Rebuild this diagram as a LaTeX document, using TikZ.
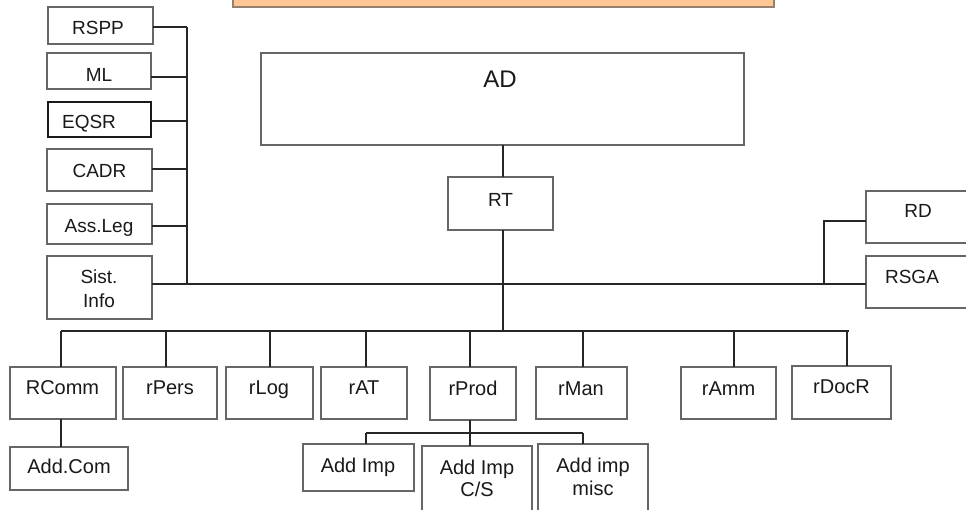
\documentclass[tikz,border=0pt]{standalone}
\usepackage{fontspec}
\setmainfont{Liberation Sans}
\definecolor{orfill}{RGB}{253,198,146}
\definecolor{orbrd}{RGB}{150,128,110}
\newcommand\mybox[6][]{\node[box,#1,minimum width={#5-#3},minimum height={#6-#4}] (#2) at ({(#3+#5)/2},{(#4+#6)/2}) {};}
\begin{document}
\begin{tikzpicture}[x=1pt,y=-1pt,
  box/.style={draw=black!60,line width=1.2pt,fill=white,inner sep=0pt,outer sep=0pt},
  thickbox/.style={draw=black!90,line width=1.8pt},
  lbl/.style={inner sep=0pt,anchor=base,align=center,text=black!90,font=\fontsize{20}{23}\selectfont},
  lblsm/.style={lbl,font=\fontsize{19}{24}\selectfont},
  conn/.style={draw=black!85,line width=1.3pt}]
\useasboundingbox (0,0) rectangle (966,509);
\fill[white] (0,0) rectangle (966,509);
\clip (0,0) rectangle (966,509);
% top orange banner
\node[draw=orbrd,fill=orfill,line width=1.5pt,inner sep=0pt,outer sep=0pt,minimum width=541,minimum height=30] (banner) at (503.5,-8) {};
% left column
\mybox{RSPP}{48}{7}{153}{44}
\mybox{ML}{47}{53}{151}{89}
\mybox[thickbox]{EQSR}{48}{102}{151}{137}
\mybox{CADR}{47}{149}{152}{191}
\mybox{AssLeg}{47}{204}{152}{244}
\mybox{Sist}{47}{256}{152}{319}
% centre
\mybox{AD}{261}{53}{744}{145}
\mybox{RT}{448}{177}{553}{230}
% right
\mybox{RD}{866}{191}{972}{243}
\mybox{RSGA}{866}{256}{972}{308}
% bottom row
\mybox{RComm}{10}{367}{116}{419}
\mybox{rPers}{123}{367}{217}{419}
\mybox{rLog}{226}{367}{313}{419}
\mybox{rAT}{321}{367}{407}{419}
\mybox{rProd}{430}{367}{516}{420}
\mybox{rMan}{536}{367}{627}{419}
\mybox{rAmm}{681}{367}{776}{419}
\mybox{rDocR}{792}{366}{891}{419}
% lowest row
\mybox{AddCom}{10}{447}{128}{490}
\mybox{AddImp}{303}{444}{414}{491}
\mybox{AddImpCS}{422}{446}{532}{520}
\mybox{AddImpMisc}{538}{444}{648}{520}
% labels
\node[lblsm] (RSPP-t) at (98,34) {RSPP};
\node[lblsm] (ML-t) at (99,81) {ML};
\node[lblsm] (EQSR-t) at (89,128) {EQSR};
\node[lblsm] (CADR-t) at (99.5,177) {CADR};
\node[lblsm] (AssLeg-t) at (99,232) {Ass.Leg};
\node[lblsm] (Sist-t) at (99,307) {Sist.\\Info};
\node[lbl,font=\fontsize{24}{28}\selectfont] (AD-t) at (500,87) {AD};
\node[lblsm] (RT-t) at (500.5,206) {RT};
\node[lblsm] (RD-t) at (918,217) {RD};
\node[lblsm] (RSGA-t) at (912,283) {RSGA};
\node[lbl] (RComm-t) at (62.5,394) {RComm};
\node[lbl] (rPers-t) at (170,394) {rPers};
\node[lbl] (rLog-t) at (269,394) {rLog};
\node[lbl] (rAT-t) at (364,394) {rAT};
\node[lbl] (rProd-t) at (473,395) {rProd};
\node[lbl] (rMan-t) at (581,395) {rMan};
\node[lbl] (rAmm-t) at (728.5,395) {rAmm};
\node[lbl] (rDocR-t) at (841.5,393) {rDocR};
\node[lbl] (AddCom-t) at (69,473) {Add.Com};
\node[lbl] (AddImp-t) at (358,472) {Add Imp};
\node[lbl,font=\fontsize{20}{22}\selectfont] (AddImpCS-t) at (477,496) {Add Imp\\C/S};
\node[lbl] (AddImpMisc-t) at (593,495) {Add imp\\misc};
% left bus
\coordinate (lb) at (187,27);
\coordinate (lj) at (187,284);
\draw[conn] (lb) -- (lj);
\foreach \n/\y in {RSPP/27,ML/77,EQSR/121,CADR/169,AssLeg/226}
  \draw[conn] (\n.east |- 0,\y) -- (lb |- 0,\y);
% main horizontal line
\draw[conn] (Sist.east |- lj) -- (RSGA.west |- lj);
% RD branch
\coordinate (rdj) at (824,284);
\draw[conn] (RD.west |- 0,221) -- (rdj |- 0,221) -- (rdj);
% AD - RT - trunk
\coordinate (tr) at (503,331);
\draw[conn] (tr |- AD.south) -- (tr |- RT.north);
\draw[conn] (tr |- RT.south) -- (tr);
% lower bus
\coordinate (bl) at (61,331);
\coordinate (br) at (849,331);
\draw[conn] (bl) -- (br);
\foreach \n/\x in {RComm/61,rPers/166,rLog/270,rAT/366,rProd/470,rMan/583,rAmm/734,rDocR/847}
  \draw[conn] (\x,331) -- (\n.north -| \x,0);
% RComm - Add.Com
\draw[conn] (RComm.south -| 61,0) -- (AddCom.north -| 61,0);
% rProd sub bus
\coordinate (sl) at (366,433);
\coordinate (sr) at (583,433);
\draw[conn] (sl) -- (sr);
\draw[conn] (rProd.south -| 470,0) -- (AddImpCS.north -| 470,0);
\draw[conn] (sl) -- (AddImp.north -| sl);
\draw[conn] (sr) -- (AddImpMisc.north -| sr);
\end{tikzpicture}
\end{document}
